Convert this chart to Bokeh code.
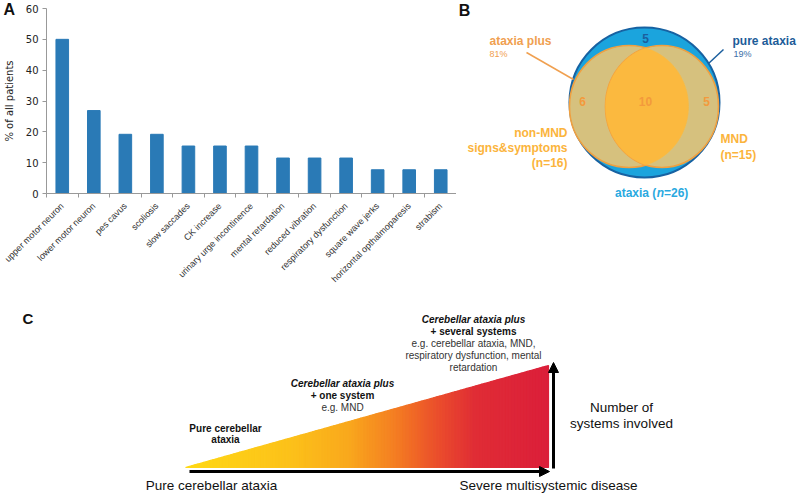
import math
from bokeh.plotting import figure
from bokeh.models import (Range1d, FixedTicker, Arrow, NormalHead, GridBox, LinearAxis)
from bokeh.layouts import column, row
from bokeh.core.properties import value
from bokeh.embed import file_html
from bokeh.resources import INLINE

# ---------------- data ----------------
symptoms = ["upper motor neuron", "lower motor neuron", "pes cavus", "scoliosis",
            "slow saccades", "CK increase", "urinary urge incontinence",
            "mental retardation", "reduced vibration", "respiratory dysfunction",
            "square wave jerks", "horizontal opthalmoparesis", "strabism"]
pct_patients = [50, 26.9, 19.2, 19.2, 15.4, 15.4, 15.4, 11.5, 11.5, 11.5, 7.7, 7.7, 7.7]
y_ticks = [0, 10, 20, 30, 40, 50, 60]
y_label = "% of all patients"

venn_pure = 5
venn_non_mnd_only = 6
venn_both = 10
venn_mnd_only = 5
ataxia_total = 26
non_mnd_total = 16
mnd_total = 15
ataxia_plus_pct = 81
pure_ataxia_pct = 19

stage1_lines = ["Pure cerebellar", "ataxia"]
stage2_lines = ["Cerebellar ataxia plus", "+ one system", "e.g. MND"]
stage3_lines = ["Cerebellar ataxia plus", "+ several systems", "e.g. cerebellar ataxia, MND,",
                "respiratory dysfunction, mental", "retardation"]
axis_left_label = "Pure cerebellar ataxia"
axis_right_label = "Severe multisystemic disease"
vertical_label = ["Number of", "systems involved"]

SANS = "Liberation Sans"


def no_align(p):
    try:
        p.frame_align = False
    except Exception:
        pass


def txt(p, xs, ys, texts, size, color, style="normal", align="center", font=SANS, angle=0):
    p.text(x=xs, y=ys, text=texts, text_font=value(font), text_font_size=size,
           text_color=color, text_font_style=style, text_align=align,
           text_baseline="middle", angle=angle)


def canvas(w, h, xr, yr):
    p = figure(width=w, height=h, x_range=Range1d(*xr), y_range=Range1d(*yr),
               x_axis_type=None, y_axis_type=None, output_backend="svg",
               toolbar_location=None, min_border=0)
    p.outline_line_color = None
    p.background_fill_color = "white"
    no_align(p)
    return p


# ---------------- panel A ----------------
n_cat = len(symptoms)
slot = list(range(n_cat))                       # category index positions
pA = figure(width=456, height=300, x_range=Range1d(-0.5, n_cat - 0.5), y_range=Range1d(0, 60),
            x_axis_location=None, output_backend="svg", toolbar_location=None,
            min_border_left=43, min_border_right=0, min_border_top=8, min_border_bottom=107)
no_align(pA)
pA.vbar(x=slot, top=pct_patients, width=0.4, color="#2a7ab6")
pA.xgrid.visible = False
pA.ygrid.visible = False
pA.outline_line_color = None

ya = pA.yaxis[0]
ya.ticker = FixedTicker(ticks=y_ticks)
ya.axis_label = y_label
ya.axis_label_text_font = "DejaVu Sans"
ya.axis_label_text_font_style = "normal"
ya.axis_label_text_font_size = "10px"
ya.axis_label_text_color = "#222222"
ya.axis_label_standoff = 8
ya.major_label_text_font = "DejaVu Sans"
ya.major_label_text_font_size = "10px"
ya.major_label_text_color = "#222222"
ya.major_label_standoff = 4
ya.major_tick_out = 4
ya.major_tick_in = 0
ya.minor_tick_line_color = None
ya.axis_line_color = "#999999"
ya.major_tick_line_color = "#999999"

# inner axis: tick marks on the category boundaries, no labels
bound_ticks = [i - 0.5 for i in range(n_cat + 1)]
tick_axis = LinearAxis(ticker=FixedTicker(ticks=bound_ticks),
                       major_label_text_font_size="1px", major_label_text_color=None,
                       major_label_standoff=0, major_tick_out=4, major_tick_in=0,
                       minor_tick_line_color=None, axis_line_color="#999999",
                       major_tick_line_color="#999999")
pA.add_layout(tick_axis, "below")

# outer axis: category names at the bar centres
label_axis = LinearAxis(ticker=FixedTicker(ticks=slot),
                        major_label_overrides={i: s for i, s in zip(slot, symptoms)},
                        major_label_orientation=math.pi / 4,
                        major_label_text_font=SANS, major_label_text_font_size="9px",
                        major_label_text_color="#333333", major_label_standoff=1,
                        major_tick_line_color=None, minor_tick_line_color=None,
                        axis_line_color=None)
pA.add_layout(label_axis, "below")

# panel letter "A", overlaid on the top-left corner of panel A
pL = canvas(22, 20, (0, 22), (20, 0))
pL.background_fill_color = None
pL.border_fill_color = None
txt(pL, [3], [9], ["A"], "16px", "#111111", "bold", "left")

topleft = GridBox(children=[(pA, 0, 0), (pL, 0, 0)])

# ---------------- panel B (Venn) ----------------
pB = canvas(344, 300, (456, 800), (300, 0))
txt(pB, [464], [10], ["B"], "16px", "#111111", "bold", "center")

# ataxia circle
pB.ellipse(x=[644], y=[102], width=[150], height=[150], fill_color="#1ba4dd",
           line_color="#1762a2", line_width=2)
# two sets
e1 = (628.5, 106, 59.5, 61.0)
e2 = (661.5, 106, 56.5, 61.0)
pB.ellipse(x=[e1[0], e2[0]], y=[e1[1], e2[1]], width=[2 * e1[2], 2 * e2[2]],
           height=[2 * e1[3], 2 * e2[3]], fill_color="#d6c17e", line_color="#f0a040",
           line_width=1.6)


def inside(px, py, e):
    return ((px - e[0]) / e[2]) ** 2 + ((py - e[1]) / e[3]) ** 2 <= 1.0


pts = []
for e, other in ((e1, e2), (e2, e1)):
    for k in range(1440):
        t = 2 * math.pi * k / 1440
        px = e[0] + e[2] * math.cos(t)
        py = e[1] + e[3] * math.sin(t)
        if inside(px, py, other):
            pts.append((px, py))
cx = sum(p[0] for p in pts) / len(pts)
cy = sum(p[1] for p in pts) / len(pts)
pts.sort(key=lambda q: math.atan2(q[1] - cy, q[0] - cx))
pB.patch(x=[q[0] for q in pts], y=[q[1] for q in pts], fill_color="#fbb93f",
         line_color="#fbb93f", line_width=0.5)

# counts
txt(pB, [645], [38], [str(venn_pure)], "12px", "#1b5f9e", "bold")
txt(pB, [582, 645, 706], [101, 101, 101],
    [str(venn_non_mnd_only), str(venn_both), str(venn_mnd_only)], "12px", "#f39a3c", "bold")

# leader lines
pB.line(x=[526, 573], y=[52, 79], line_color="#f0a050", line_width=1.5)
pB.line(x=[708, 723], y=[63, 49], line_color="#1b5f9e", line_width=1.5)

txt(pB, [489], [40], ["ataxia plus"], "12px", "#f0a050", "bold", "left")
txt(pB, [489], [53], [f"{ataxia_plus_pct}%"], "9px", "#f0a050", "normal", "left")
txt(pB, [732], [40], ["pure ataxia"], "12px", "#1d5c99", "bold", "left")
txt(pB, [733], [53], [f"{pure_ataxia_pct}%"], "9px", "#3a6ea8", "normal", "left")

txt(pB, [567, 567, 567], [132, 147, 162],
    ["non-MND", "signs&symptoms", f"(n={non_mnd_total})"], "12px", "#fbb43c", "bold", "right")
txt(pB, [720, 720], [138, 154], ["MND", f"(n={mnd_total})"], "12px", "#fbb43c", "bold", "left")

txt(pB, [614.5], [192], ["ataxia ("], "12px", "#29a9df", "bold", "left")
txt(pB, [656.2], [192], ["n"], "12px", "#29a9df", "bold italic", "left")
txt(pB, [663.5], [192], [f"={ataxia_total})"], "12px", "#29a9df", "bold", "left")

# ---------------- panel C ----------------
pC = canvas(800, 195, (0, 800), (495, 300))
txt(pC, [22], [318], ["C"], "15px", "#111111", "bold", "left")

X0, X1, YB, YT = 185.0, 548.0, 467.0, 365.0
stops = [(0.0, (255, 217, 21)), (0.30, (252, 192, 26)), (0.45, (249, 168, 28)),
         (0.58, (244, 125, 34)), (0.70, (234, 76, 44)), (0.80, (224, 44, 53)),
         (1.0, (219, 31, 58))]


def grad(t):
    for (t0, c0), (t1, c1) in zip(stops[:-1], stops[1:]):
        if t <= t1:
            f = (t - t0) / (t1 - t0)
            c = [round(a + (b - a) * f) for a, b in zip(c0, c1)]
            return "#%02x%02x%02x" % tuple(c)
    return "#%02x%02x%02x" % stops[-1][1]


N = 120
xs_list, ys_list, cols = [], [], []
for i in range(N):
    xa0 = X0 + (X1 - X0) * i / N
    xa1 = X0 + (X1 - X0) * (i + 1) / N
    ya0 = YB - (xa0 - X0) / (X1 - X0) * (YB - YT)
    ya1 = YB - (xa1 - X0) / (X1 - X0) * (YB - YT)
    xs_list.append([xa0, xa1, xa1, xa0])
    ys_list.append([YB, YB, ya1, ya0])
    cols.append(grad((i + 0.5) / N))
pC.patches(xs=xs_list, ys=ys_list, fill_color=cols, line_color=cols, line_width=1.2)

pC.add_layout(Arrow(end=NormalHead(size=10, fill_color="black", line_color="black"),
                    x_start=189, y_start=471, x_end=549, y_end=471,
                    line_width=3, line_color="black"))
pC.add_layout(Arrow(end=NormalHead(size=10, fill_color="black", line_color="black"),
                    x_start=553, y_start=468, x_end=553, y_end=362,
                    line_width=3, line_color="black"))

# stage texts
txt(pC, [225, 225], [428, 439], stage1_lines, "10px", "#111111", "bold")
txt(pC, [342], [383], [stage2_lines[0]], "10px", "#111111", "bold italic")
txt(pC, [342], [395], [stage2_lines[1]], "10px", "#111111", "bold")
txt(pC, [342], [407], [stage2_lines[2]], "10px", "#333333", "normal")
txt(pC, [473], [319], [stage3_lines[0]], "10px", "#111111", "bold italic")
txt(pC, [473], [331], [stage3_lines[1]], "10px", "#111111", "bold")
txt(pC, [473, 473, 473], [343, 355, 367], stage3_lines[2:], "10px", "#333333", "normal")

txt(pC, [211], [485], [axis_left_label], "13.5px", "#111111", "normal")
txt(pC, [548], [485], [axis_right_label], "13.5px", "#111111", "normal")
txt(pC, [621, 621], [407, 423], vertical_label, "13.5px", "#111111", "normal")

layout = column(row(topleft, pB, spacing=0), pC, spacing=0)
open("out.html", "w").write(file_html(layout, INLINE))
